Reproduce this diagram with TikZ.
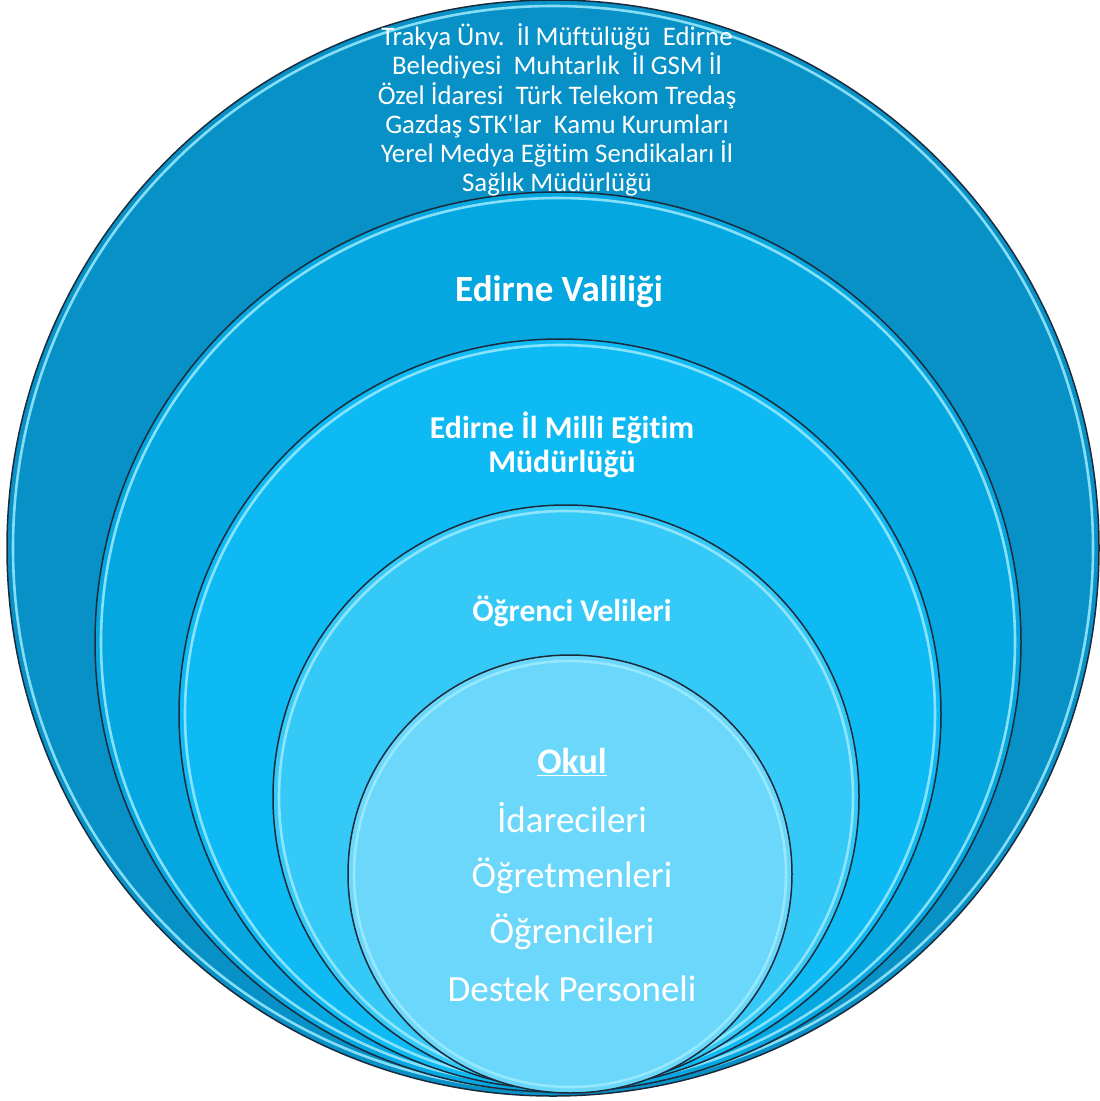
\documentclass[tikz,border=0pt]{standalone}
\usepackage{fontspec}
\setmainfont[Ligatures={TeX,NoCommon}]{Carlito}

\definecolor{ringA}{HTML}{0791C6}
\definecolor{ringB}{HTML}{04A7DF}
\definecolor{ringC}{HTML}{0DBAF3}
\definecolor{ringD}{HTML}{35C9F8}
\definecolor{ringE}{HTML}{6BD7FB}
\definecolor{ringline}{HTML}{1B2B3C}
\definecolor{ringglow}{HTML}{9DEBFF}

\tikzset{
	ring/.style={draw=ringline, line width=1.5pt},
	glow/.style={draw=ringglow, line width=2.6pt, opacity=0.85},
	lbl/.style={text=white, align=center, inner sep=0pt},
}

\begin{document}
\begin{tikzpicture}[x=1pt,y=-1pt]
		
		\useasboundingbox (0,0) rectangle (1100,1101);
		
		% dis halka
		\fill[ringA] (553,548) ellipse (546 and 548);
		\draw[glow] (553,548) ellipse (540 and 542);
		\draw[ring] (553,548) ellipse (546 and 548);
		
		\fill[ringB] (558,642) ellipse (463 and 450);
		\draw[glow] (558,642) ellipse (457 and 444);
		\draw[ring] (558,642) ellipse (463 and 450);
		
		\fill[ringC] (560,714) ellipse (381 and 375);
		\draw[glow] (560,714) ellipse (375 and 369);
		\draw[ring] (560,714) ellipse (381 and 375);
		
		\fill[ringD] (566,797) ellipse (293 and 292);
		\draw[glow] (566,797) ellipse (287 and 286);
		\draw[ring] (566,797) ellipse (293 and 292);
		
		% okul
		\fill[ringE] (570,874) ellipse (222 and 219);
		\draw[glow] (570,874) ellipse (216 and 213);
		\draw[ring] (570,874) ellipse (222 and 219);
		
		% kurumlar
		\node[lbl, font=\fontsize{26.8}{29.2}\selectfont] (kurum) at (557,110)
		{Trakya Ünv.\ \ İl Müftülüğü\ \ Edirne\\
			Belediyesi\ \ Muhtarlık\ \ İl GSM İl\\
			Özel İdaresi\ \ Türk Telekom Tredaş\\
			Gazdaş STK\textquotesingle lar\ \ Kamu Kurumları\\
			Yerel Medya Eğitim Sendikaları İl\\
			Sağlık Müdürlüğü};
		
		\node[lbl, font=\fontsize{37}{42}\selectfont\bfseries] (vali) at (559,292) {Edirne Valiliği};
		
		\node[lbl, font=\fontsize{31.8}{34}\selectfont\bfseries] (meb) at (562,445)
		{Edirne İl Milli Eğitim\\ Müdürlüğü};
		
		\node[lbl, font=\fontsize{31.6}{36}\selectfont\bfseries] (veli) at (572,611) {Öğrenci Velileri};
		
		% okul paydaslari
		\node[lbl, font=\fontsize{36}{42}\selectfont\bfseries] (okul) at (572,762) {\underline{Okul}};
		\node[lbl, font=\fontsize{37}{42}\selectfont] (idare) at (572,818) {İdarecileri};
		\node[lbl, font=\fontsize{37}{42}\selectfont] (ogretmen) at (572,876) {Öğretmenleri};
		\node[lbl, font=\fontsize{37}{42}\selectfont] (ogrenci) at (572,932) {Öğrencileri};
		\node[lbl, font=\fontsize{37}{42}\selectfont] (destek) at (572,989) {Destek Personeli};
		
	\end{tikzpicture}
\end{document}
